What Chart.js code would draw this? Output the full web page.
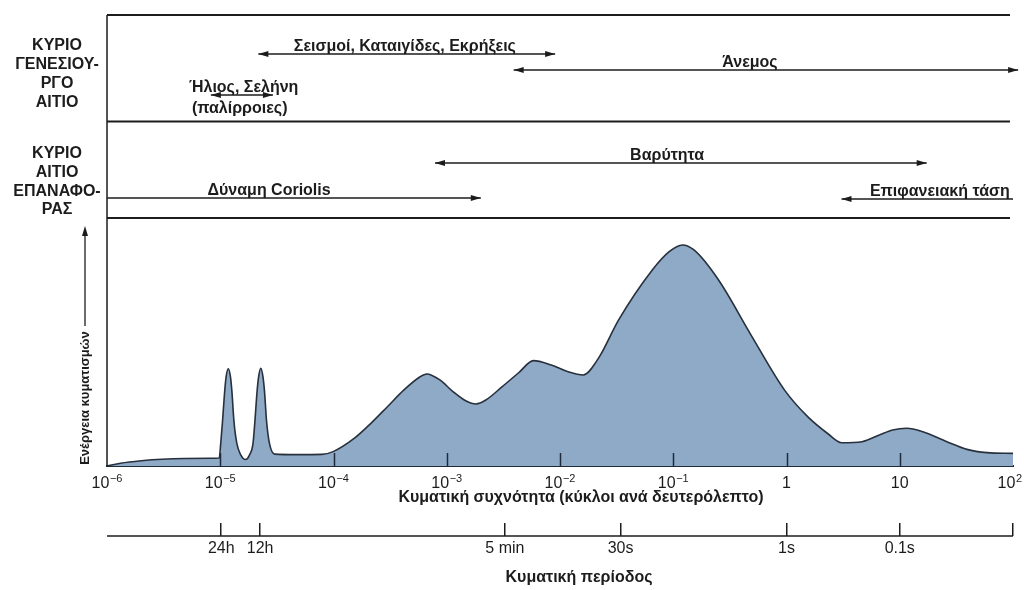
<!DOCTYPE html>
<html>
<head>
<meta charset="utf-8">
<script src="https://cdn.jsdelivr.net/npm/chart.js@4.4.1/dist/chart.umd.min.js"></script>
<style>
  html, body { margin: 0; padding: 0; background: #fff; }
  #wrap { width: 1024px; height: 590px; }
</style>
</head>
<body>
<div id="wrap"><canvas id="spectrum"></canvas></div>
<script>
// exponent of the wave frequency (cycles per second)
const freqExp = [-6.000, -5.881, -5.697, -5.514, -5.085, -5.009,
  -4.996, -4.980, -4.961, -4.948, -4.929, -4.910, -4.897, -4.879, -4.853, -4.819,
  -4.778, -4.741, -4.711, -4.694, -4.675, -4.661, -4.642, -4.623, -4.609, -4.591,
  -4.565, -4.520, -4.319, -4.103, -4.003, -3.815, -3.670, -3.524, -3.380, -3.235,
  -3.177, -3.061, -2.945, -2.829, -2.742, -2.655, -2.510, -2.365, -2.235, -2.076,
  -1.929, -1.795, -1.661, -1.482, -1.185, -1.036, -0.919, -0.817, -0.600, -0.313,
  -0.017, 0.189, 0.369, 0.486, 0.667, 0.820, 0.937, 1.062, 1.204, 1.416, 1.593,
  1.770, 2.000];
// wave energy (arbitrary units, 0..100 = plot height)
const energy = [0, 1.1, 2.1, 2.7, 3.1, 3.2,
  9, 18, 30, 36, 39.2, 36, 30, 18, 9, 4.5,
  2.6, 4.5, 9, 18, 30, 36, 39.4, 36, 30, 18,
  9, 4.8, 4.6, 4.7, 5.8, 11.2, 17.2, 23.9, 30.6, 36.0,
  37.1, 34.7, 30.0, 26.2, 25.0, 26.6, 32.0, 37.6, 42.5, 40.7,
  38.0, 36.7, 43.4, 58.9, 79.0, 86.4, 89.1, 87.1, 75.0, 52.8,
  30.6, 19.8, 12.9, 9.4, 9.8, 12.5, 14.5, 15.2, 13.8, 9.8, 6.7,
  5.4, 5.1];

const decadeTicks = [1e-6, 1e-5, 1e-4, 1e-3, 1e-2, 1e-1, 1, 10, 100];
const decadeBase = ['10', '10', '10', '10', '10', '10', '1', '10', '10'];
const decadePower = ['−6', '−5', '−4', '−3', '−2', '−1', '', '', '2'];

const periodTicks = [1.02e-5, 2.25e-5, 3.26e-3, 3.43e-2, 1, 10, 100];
const periodLabels = ['24h', '12h', '5 min', '30s', '1s', '0.1s', ''];

// generating forces (top band) and restoring forces (second band)
const forceLabels = ['Σεισμοί, Καταιγίδες, Εκρήξεις', 'Άνεμος', 'Ήλιος, Σελήνη',
  'Βαρύτητα', 'Δύναμη Coriolis', 'Επιφανειακή τάση'];
const forceFrom = [2.17e-5, 3.9e-3, 8.26e-6, 7.87e-4, 1e-6, 3.06];
const forceTo = [9.06e-3, 111, 2.92e-5, 17.3, 2.0e-3, 100];
const forceLabelAt = [4.27e-4, 0.476, 1.61e-5, 0.0883, 2.7e-5, 22.6];

const freqTitle = 'Κυματική συχνότητα (κύκλοι ανά δευτερόλεπτο)';
const periodTitle = 'Κυματική περίοδος';
const energyTitle = 'Ενέργεια κυματισμών';

const INK = '#1c1c1c';
const FONT = '"Liberation Sans", Arial, sans-serif';

const points = freqExp.map((e, i) => ({ x: Math.pow(10, e), y: energy[i] }));
const lastE = energy[energy.length - 1];

// row layout for the band arrows: [arrow y, head on left, head on right]
const arrowRows = [[54, 1, 1], [70, 1, 1], [95, 1, 1], [163, 1, 1], [198, 0, 1], [199, 1, 0]];

function head(ctx, x, y, dir) {
  ctx.beginPath();
  ctx.moveTo(x, y);
  ctx.lineTo(x - dir * 10, y - 3);
  ctx.lineTo(x - dir * 10, y + 3);
  ctx.closePath();
  ctx.fill();
}

const bands = {
  id: 'bands',
  afterDatasetsDraw(chart) {
    const { ctx, chartArea: a, scales } = chart;
    // inward tick marks on the frequency axis
    ctx.save();
    ctx.strokeStyle = '#1e2a3a';
    ctx.lineWidth = 1.5;
    decadeTicks.slice(1, -1).forEach(v => {
      const px = Math.round(scales.x.getPixelForValue(v)) + 0.5;
      ctx.beginPath();
      ctx.moveTo(px, a.bottom);
      ctx.lineTo(px, a.bottom - 13);
      ctx.stroke();
    });
    ctx.restore();
  },
  afterDraw(chart) {
    const { ctx, chartArea: a, scales, width } = chart;
    const x = scales.x;
    const mid = (a.left + a.right) / 2;
    ctx.save();
    ctx.strokeStyle = INK;
    ctx.fillStyle = INK;

    // band frame
    ctx.lineWidth = 2;
    [15, 121.5, a.top].forEach(y => {
      ctx.beginPath();
      ctx.moveTo(a.left, y);
      ctx.lineTo(a.right - 3, y);
      ctx.stroke();
    });
    ctx.lineWidth = 1.5;
    ctx.beginPath();
    ctx.moveTo(a.left, 15);
    ctx.lineTo(a.left, a.bottom);
    ctx.stroke();

    // period axis line
    const p = scales.xp;
    ctx.beginPath();
    ctx.moveTo(p.left, p.top + 13);
    ctx.lineTo(p.right, p.top + 13);
    ctx.stroke();

    // frequency tick labels with raised powers
    ctx.textAlign = 'left';
    ctx.textBaseline = 'alphabetic';
    decadeTicks.forEach((v, i) => {
      const px = x.getPixelForValue(v);
      ctx.font = '16px ' + FONT;
      const wb = ctx.measureText(decadeBase[i]).width;
      ctx.font = '11px ' + FONT;
      const wp = decadePower[i] ? ctx.measureText(decadePower[i]).width + 0.5 : 0;
      const x0 = Math.min(px - (wb + wp) / 2, width - 2 - wb - wp);
      ctx.font = '16px ' + FONT;
      ctx.fillText(decadeBase[i], x0, a.bottom + 22);
      if (decadePower[i]) {
        ctx.font = '11px ' + FONT;
        ctx.fillText(decadePower[i], x0 + wb + 0.5, a.bottom + 16);
      }
    });

    // axis titles
    ctx.font = 'bold 16px ' + FONT;
    ctx.textAlign = 'center';
    ctx.textBaseline = 'middle';
    ctx.fillText(freqTitle, mid + 21, a.bottom + 32);
    ctx.fillText(periodTitle, mid + 19, p.bottom + 16);

    // band row titles
    [['ΚΥΡΙΟ', 46], ['ΓΕΝΕΣΙΟΥ-', 65], ['ΡΓΟ', 84], ['ΑΙΤΙΟ', 103],
     ['ΚΥΡΙΟ', 154], ['ΑΙΤΙΟ', 173], ['ΕΠΑΝΑΦΟ-', 192], ['ΡΑΣ', 210]]
      .forEach(([t, y]) => ctx.fillText(t, 57, y));

    // force arrows
    ctx.font = 'bold 16px ' + FONT;
    ctx.textBaseline = 'alphabetic';
    ctx.lineWidth = 1.3;
    forceLabels.forEach((label, i) => {
      const [y, hl, hr] = arrowRows[i];
      const x0 = x.getPixelForValue(forceFrom[i]);
      const x1 = x.getPixelForValue(forceTo[i]);
      ctx.beginPath();
      ctx.moveTo(x0, y);
      ctx.lineTo(x1, y);
      ctx.stroke();
      if (hl) head(ctx, x0, y, -1);
      if (hr) head(ctx, x1, y, 1);
      const lx = x.getPixelForValue(forceLabelAt[i]);
      ctx.fillText(label, lx, y - 3);
      if (i === 2) ctx.fillText('(παλίρροιες)', lx - 4, y + 18);
    });

    // energy axis label with arrow
    ctx.save();
    ctx.translate(85, 398);
    ctx.rotate(-Math.PI / 2);
    ctx.font = 'bold 13px ' + FONT;
    ctx.textBaseline = 'middle';
    ctx.fillText(energyTitle, 0, 0);
    ctx.restore();
    ctx.lineWidth = 1.3;
    ctx.beginPath();
    ctx.moveTo(85, 326);
    ctx.lineTo(85, 232);
    ctx.stroke();
    ctx.beginPath();
    ctx.moveTo(85, 226);
    ctx.lineTo(82, 236);
    ctx.lineTo(88, 236);
    ctx.closePath();
    ctx.fill();
    ctx.restore();
  }
};

new Chart(document.getElementById('spectrum'), {
  type: 'line',
  data: {
    datasets: [{
      data: points,
      borderColor: '#27303c',
      borderWidth: 1.6,
      backgroundColor: '#8eaac6',
      fill: 'origin',
      pointRadius: 0,
      cubicInterpolationMode: 'monotone'
    }, {
      data: [{ x: 100, y: lastE }, { x: 100, y: 0 }],
      borderColor: '#27303c',
      borderWidth: 1.6,
      fill: false,
      pointRadius: 0
    }]
  },
  options: {
    responsive: true,
    maintainAspectRatio: false,
    animation: false,
    layout: { padding: { left: 107, right: 11, top: 218, bottom: 28.8 } },
    plugins: { legend: { display: false }, tooltip: { enabled: false } },
    scales: {
      x: {
        type: 'logarithmic',
        position: 'bottom',
        weight: 0,
        min: 1e-6,
        max: 100,
        afterBuildTicks: s => { s.ticks = decadeTicks.map(v => ({ value: v })); },
        afterFit: s => { s.height = 57; },
        ticks: { display: false },
        grid: { display: false, drawTicks: false },
        border: { display: true, color: '#1e2a3a', width: 2 }
      },
      xp: {
        type: 'logarithmic',
        position: 'bottom',
        weight: 1,
        min: 1e-6,
        max: 100,
        afterBuildTicks: s => { s.ticks = periodTicks.map(v => ({ value: v })); },
        ticks: {
          callback: (v, i) => periodLabels[i],
          autoSkip: false,
          maxRotation: 0,
          padding: 3,
          color: INK,
          font: { family: FONT, size: 16 }
        },
        grid: { display: true, drawOnChartArea: false, drawTicks: true, tickLength: 13, color: INK, lineWidth: 1.5 },
        border: { display: false }
      },
      y: { display: false, min: 0, max: 100 }
    }
  },
  plugins: [bands]
});
</script>
</body>
</html>
